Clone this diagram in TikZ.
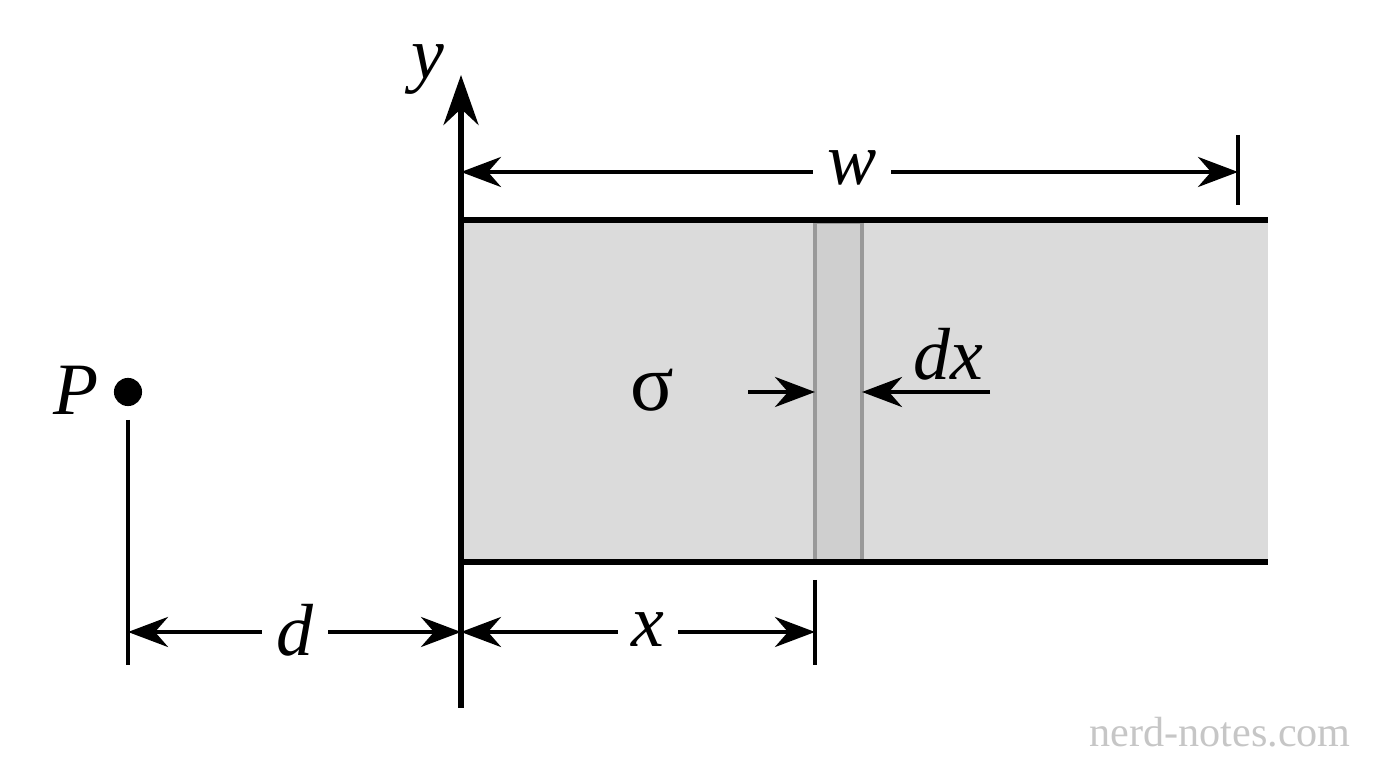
\documentclass[tikz,border=0pt]{standalone}
\usepackage{fontspec}
\setmainfont{Liberation Serif}
\usetikzlibrary{arrows.meta}
\tikzset{
  dim/.style={line width=1.2pt, {Stealth[length=4mm,width=3mm]}-{Stealth[length=4mm,width=3mm]}},
  tick/.style={line width=1.2pt},
  lbl/.style={fill=white, inner sep=4pt, font=\fontsize{21}{25}\selectfont\itshape}
}
\begin{document}
\begin{tikzpicture}[x=0.01cm, y=-0.01cm]
  \useasboundingbox[fill=white] (0,0) rectangle (1376,768);

  % the sheet and the thin strip
  \fill[gray!28] (461,220) rectangle (1268,562);
  \draw[line width=1pt, fill=gray!38, draw=gray!80] (815,222) rectangle (862,562);
  \draw[tick, line width=1.8pt] (461,220) -- (1268,220);
  \draw[tick, line width=1.8pt] (461,562) -- (1268,562);

  % axis
  \coordinate (o) at (461,708);
  \coordinate (ytip) at (461,75);
  \draw[line width=1.5pt, -{Stealth[length=5mm,width=3.5mm]}] (o) -- (ytip);
  \node[font=\fontsize{21}{25}\selectfont\itshape] (ylab) at (428,70) {y};

  % width w
  \coordinate (wl) at (461,172);
  \coordinate (wr) at (1238,172);
  \draw[tick] (1238,135) -- (1238,205);
  \draw[dim] (wl) -- (wr);
  \node[lbl] (wlab) at (852,168) {w};

  % point P
  \node[circle, fill=black, inner sep=0pt, minimum size=8pt] (p) at (128,392) {};
  \node[font=\fontsize{21}{25}\selectfont\itshape] (plab) at (76,390) {P};
  \draw[tick] (128,420) -- (128,665);

  % distance d
  \coordinate (dl) at (128,632);
  \coordinate (dr) at (461,632);
  \draw[dim] (dl) -- (dr);
  \node[lbl] (dlab) at (295,630) {d};

  % distance x
  \coordinate (xr) at (815,632);
  \draw[tick] (815,580) -- (815,665);
  \draw[dim] (dr) -- (xr);
  \node[lbl] (xlab) at (648,630) {x};

  % sigma
  \node[font=\fontsize{23}{27}\selectfont] (sig) at (652,390) {σ};

  % strip width dx
  \coordinate (a1) at (748,392);
  \coordinate (a2) at (815,392);
  \coordinate (b1) at (990,392);
  \coordinate (b2) at (862,392);
  \draw[line width=1.2pt, -{Stealth[length=4mm,width=3mm]}] (a1) -- (a2);
  \draw[line width=1.2pt, -{Stealth[length=4mm,width=3mm]}] (b1) -- (b2);
  \node[font=\fontsize{21}{25}\selectfont\itshape] (dxlab) at (948,354) {dx};

  % watermark
  \node[text=gray!45, font=\fontsize{12}{14}\selectfont] (wm) at (1220,732) {nerd-notes.com};
\end{tikzpicture}
\end{document}
